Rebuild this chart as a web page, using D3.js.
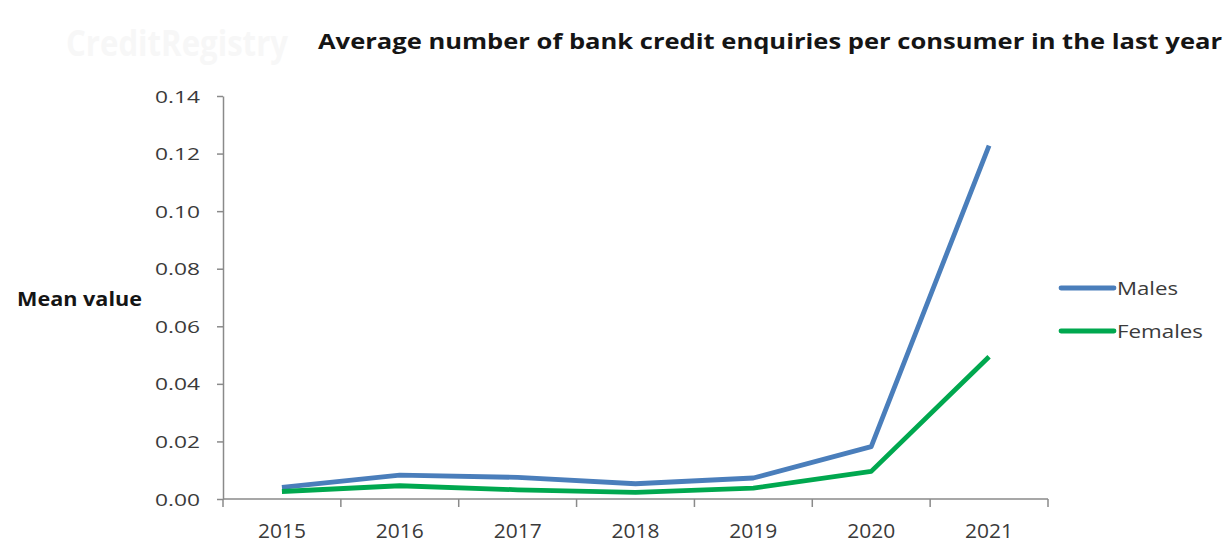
<!DOCTYPE html>
<html>
<head>
<meta charset="utf-8">
<script src="https://cdn.jsdelivr.net/npm/d3@7"></script>
<style>
  html, body { margin: 0; padding: 0; background: #fff; }
  svg { display: block; }
  text { font-family: "Open Sans", "Liberation Sans", Arial, sans-serif; fill: #262626; }
</style>
</head>
<body>
<svg id="chart" width="1228" height="545"></svg>
<script>
// Chart data
const years = ["2015", "2016", "2017", "2018", "2019", "2020", "2021"];
const males = [0.0040, 0.0083, 0.0075, 0.0053, 0.0073, 0.0182, 0.1228];
const females = [0.0026, 0.0046, 0.0032, 0.0023, 0.0038, 0.0096, 0.0494];
const yTicks = [0, 0.02, 0.04, 0.06, 0.08, 0.10, 0.12, 0.14];
const seriesNames = ["Males", "Females"];
const seriesColors = ["#4a7ebb", "#00a84f"];

const svg = d3.select("#chart");
const axisColor = "#8a8a8a";
const labelColor = "#3a3a3a";

const x = d3.scaleBand().domain(years).range([223, 1048]);
const y = d3.scaleLinear().domain([0, 0.14]).range([499, 96]);

// Faint brand watermark, top left
svg.append("text")
  .attr("x", 66).attr("y", 56)
  .attr("textLength", 222).attr("lengthAdjust", "spacingAndGlyphs")
  .style("font-size", "36px").style("font-weight", "bold")
  .style("fill", "#f7f7f7")
  .text("CreditRegistry");

// Title
svg.append("text")
  .attr("x", 318).attr("y", 49)
  .attr("textLength", 904).attr("lengthAdjust", "spacingAndGlyphs")
  .style("font-size", "22px").style("font-weight", "bold")
  .style("fill", "#151515")
  .text("Average number of bank credit enquiries per consumer in the last year");

// Y axis title
svg.append("text")
  .attr("x", 17).attr("y", 306)
  .attr("textLength", 125).attr("lengthAdjust", "spacingAndGlyphs")
  .style("font-size", "19px").style("font-weight", "bold")
  .style("fill", "#151515")
  .text("Mean value");

// Y axis
const yAxis = svg.append("g")
  .attr("transform", "translate(223,0)")
  .call(d3.axisLeft(y).tickValues(yTicks).tickFormat(d3.format(".2f")).tickSize(6).tickSizeOuter(0));
yAxis.select(".domain").attr("stroke", axisColor).attr("stroke-width", 1.5);
yAxis.selectAll(".tick line").attr("stroke", axisColor).attr("stroke-width", 1.5);
yAxis.selectAll(".tick text")
  .attr("x", -68)
  .attr("text-anchor", "start")
  .attr("dy", "0.36em")
  .attr("textLength", 45).attr("lengthAdjust", "spacingAndGlyphs")
  .style("font-size", "17px").style("font-family", "Open Sans, Liberation Sans, Arial, sans-serif")
  .style("fill", labelColor);

// X axis with tick marks at category boundaries
const xAxisG = svg.append("g").attr("transform", "translate(0,499)");
xAxisG.append("line")
  .attr("x1", 223).attr("x2", 1048).attr("y1", 0).attr("y2", 0)
  .attr("stroke", axisColor).attr("stroke-width", 1.5);
const bounds = years.map(d => x(d)).concat([x.range()[1]]);
xAxisG.selectAll("line.tick").data(bounds).join("line")
  .attr("class", "tick")
  .attr("x1", d => d).attr("x2", d => d)
  .attr("y1", 0).attr("y2", 8)
  .attr("stroke", axisColor).attr("stroke-width", 1.5);
xAxisG.selectAll("text").data(years).join("text")
  .attr("x", d => x(d) + x.bandwidth() / 2 - 24)
  .attr("y", 39)
  .attr("textLength", 48).attr("lengthAdjust", "spacingAndGlyphs")
  .style("font-size", "20px").style("fill", labelColor)
  .text(d => d);

// Lines
const line = d3.line()
  .x((d, i) => x(years[i]) + x.bandwidth() / 2)
  .y(d => y(d));

[males, females].forEach((vals, i) => {
  svg.append("path")
    .datum(vals)
    .attr("d", line)
    .attr("fill", "none")
    .attr("stroke", seriesColors[i])
    .attr("stroke-width", 4.8)
    .attr("stroke-linejoin", "round");
});

// Legend
const legendWidths = [61, 86];
const legend = svg.append("g");
seriesNames.forEach((name, i) => {
  const ly = 288 + i * 43;
  legend.append("line")
    .attr("x1", 1061).attr("x2", 1114).attr("y1", ly).attr("y2", ly)
    .attr("stroke", seriesColors[i]).attr("stroke-width", 4.8)
    .attr("stroke-linecap", "round");
  legend.append("text")
    .attr("x", 1117).attr("y", ly + 7)
    .attr("textLength", legendWidths[i]).attr("lengthAdjust", "spacingAndGlyphs")
    .style("font-size", "18px").style("fill", labelColor)
    .text(name);
});
</script>
</body>
</html>
